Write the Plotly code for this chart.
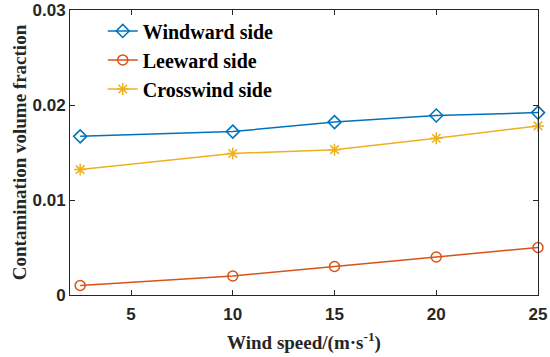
import plotly.graph_objects as go

wind_speed = [2.5, 10, 15, 20, 25]
windward = [0.0167, 0.0172, 0.0182, 0.0189, 0.0192]
leeward = [0.0010, 0.0020, 0.0030, 0.0040, 0.0050]
crosswind = [0.0132, 0.0149, 0.0153, 0.0165, 0.0178]
series_names = ["Windward side", "Leeward side", "Crosswind side"]
x_ticks = [5, 10, 15, 20, 25]
y_ticks = [0, 0.01, 0.02, 0.03]
y_tick_labels = ["0", "0.01", "0.02", "0.03"]

colors = ["#0072BD", "#D95319", "#EDB120"]
symbols = ["diamond-open", "circle-open", "asterisk-open"]

fig = go.Figure()
for name, vals, c, s in zip(series_names, [windward, leeward, crosswind], colors, symbols):
    fig.add_trace(go.Scatter(
        x=wind_speed, y=vals, name=name, mode="lines+markers",
        line=dict(color=c, width=1.5),
        marker=dict(symbol=s, size=10, color=c, line=dict(color=c, width=1.5)),
        cliponaxis=False,
    ))

axis_common = dict(
    showline=True, linecolor="#262626", linewidth=1, mirror="ticks",
    ticks="inside", ticklen=5, tickcolor="#262626", showgrid=False, zeroline=False,
    automargin=False,
    tickfont=dict(family="Liberation Sans, Arial", size=17, color="#262626", weight="bold"),
)

fig.update_layout(
    width=550, height=357,
    margin=dict(l=70, r=12, t=10, b=62),
    paper_bgcolor="white", plot_bgcolor="white",
    xaxis=dict(range=[2, 25], tickvals=x_ticks, ticklabelstandoff=4,
               title=dict(text="Wind speed/(m·s<sup>-1</sup>)", standoff=12,
                          font=dict(family="Liberation Serif, Times New Roman", size=19,
                                    color="#262626", weight="bold")),
               **axis_common),
    yaxis=dict(range=[0, 0.03], tickvals=y_ticks, ticktext=y_tick_labels,
               title=dict(text="Contamination volume fraction", standoff=0,
                          font=dict(family="Liberation Serif, Times New Roman", size=19,
                                    color="#262626", weight="bold")),
               **axis_common),
    legend=dict(x=0.07, y=0.995, xanchor="left", yanchor="top",
                bgcolor="rgba(0,0,0,0)", borderwidth=0, tracegroupgap=0,
                font=dict(family="Liberation Serif, Times New Roman", size=20,
                          color="black", weight="bold")),
    showlegend=True,
)

fig.write_html("out.html", post_script="document.body.style.margin='0';",
               config={"displayModeBar": False})
